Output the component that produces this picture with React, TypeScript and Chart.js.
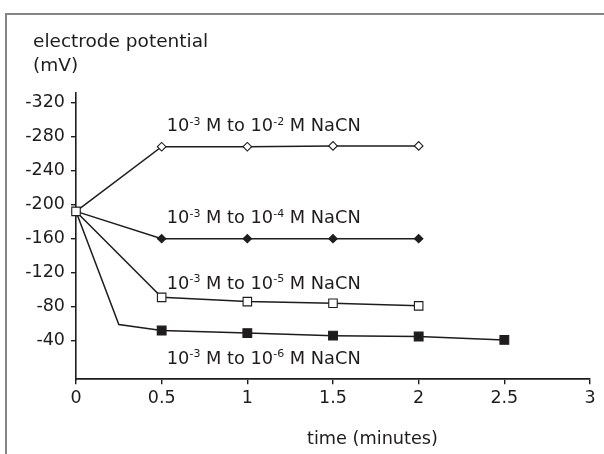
import React, { useEffect, useRef } from 'react';
import { Chart, registerables } from 'chart.js';

Chart.register(...registerables);

// ---- data ----
const timesA = [0, 0.5, 1, 1.5, 2];
const timesB = [0, 0.25, 0.5, 1, 1.5, 2, 2.5];
const nacn1e2 = [-192, -268, -268, -269, -269];
const nacn1e4 = [-192, -160, -160, -160, -160];
const nacn1e5 = [-192, -91, -86, -84, -81];
const nacn1e6 = [-192, -59, -52, -49, -46, -45, -41];
const yTickValues = [-320, -280, -240, -200, -160, -120, -80, -40];
const xTickValues = [0, 0.5, 1, 1.5, 2, 2.5, 3];
const seriesExponents = ['-2', '-4', '-5', '-6'];
const yTitleLines = ['electrode potential', '(mV)'];
const xTitle = 'time (minutes)';

// ---- annotation anchors (data units) ----
const labelTime = 0.53;
const labelBaselineValues = [-286, -178, -101, -13];

const TEXT = '#1e1c1d';
const FONT = 'DejaVu Sans';

const pts = (xs: number[], ys: number[]) => xs.map((x, i) => ({ x, y: ys[i] }));

const annotate = {
  id: 'annotate',
  afterDraw(chart: any) {
    const ctx = chart.ctx as CanvasRenderingContext2D;
    const xs = chart.scales.x;
    const ys = chart.scales.y;
    ctx.save();
    ctx.fillStyle = TEXT;
    ctx.textBaseline = 'alphabetic';
    ctx.textAlign = 'left';
    // y title
    ctx.font = `18.5px "${FONT}"`;
    ctx.fillText(yTitleLines[0], 33, 47);
    ctx.fillText(yTitleLines[1], 33, 71);
    // x title
    ctx.font = `17.7px "${FONT}"`;
    ctx.fillText(xTitle, 307, 444);
    // series labels
    seriesExponents.forEach((exp, i) => {
      let x = xs.getPixelForValue(labelTime);
      const y = ys.getPixelForValue(labelBaselineValues[i]);
      const segs: [string, boolean][] = [
        ['10', false],
        ['-3', true],
        [' M to 10', false],
        [exp, true],
        [' M NaCN', false],
      ];
      segs.forEach(([t, sup]) => {
        if (sup) {
          ctx.font = `11px "${FONT}"`;
          ctx.fillText(t, x, y - 6.5);
        } else {
          ctx.font = `17.8px "${FONT}"`;
          ctx.fillText(t, x, y);
        }
        x += ctx.measureText(t).width;
      });
    });
    ctx.restore();
  },
};

export default function App() {
  const ref = useRef<HTMLCanvasElement | null>(null);
  useEffect(() => {
    if (!ref.current) return;
    const line = {
      borderColor: TEXT,
      borderWidth: 1.5,
      pointBorderColor: TEXT,
      pointBorderWidth: 1.1,
      tension: 0,
      clip: false as any,
      showLine: true,
    };
    const chart = new Chart(ref.current, {
      type: 'scatter',
      data: {
        datasets: [
          {
            ...line,
            label: '10-3 M to 10-5 M NaCN',
            data: pts(timesA, nacn1e5),
            pointStyle: 'rect',
            pointRadius: 6,
            pointBackgroundColor: '#ffffff',
          },
          {
            ...line,
            label: '10-3 M to 10-2 M NaCN',
            data: pts(timesA, nacn1e2),
            pointStyle: 'rectRot',
            pointRadius: 4.3,
            pointBackgroundColor: '#ffffff',
          },
          {
            ...line,
            label: '10-3 M to 10-4 M NaCN',
            data: pts(timesA, nacn1e4),
            pointStyle: 'rectRot',
            pointRadius: timesA.map((t) => (t === 0 ? 0 : 4.2)),
            pointBackgroundColor: TEXT,
          },
          {
            ...line,
            label: '10-3 M to 10-6 M NaCN',
            data: pts(timesB, nacn1e6),
            pointStyle: 'rect',
            pointRadius: timesB.map((t) => (t === 0 || t === 0.25 ? 0 : 6.2)),
            pointBackgroundColor: TEXT,
          },
        ],
      },
      options: {
        animation: false,
        responsive: false,
        events: [],
        layout: { padding: { top: 92.7, right: 14, bottom: 0, left: 0 } },
        plugins: { legend: { display: false }, tooltip: { enabled: false }, title: { display: false } },
        scales: {
          x: {
            type: 'linear',
            position: 'bottom',
            min: 0,
            max: 3,
            afterFit: (s: any) => {
              s.height = 74.7;
            },
            afterBuildTicks: (s: any) => {
              s.ticks = xTickValues.map((v) => ({ value: v }));
            },
            ticks: {
              color: TEXT,
              font: { family: FONT, size: 17.5 },
              padding: 4,
              maxRotation: 0,
              autoSkip: false,
              callback: (v: any) => String(v),
            },
            grid: { display: true, drawOnChartArea: false, drawTicks: true, tickLength: 5, color: TEXT, lineWidth: 1.4 },
            border: { display: true, color: TEXT, width: 1.7 },
          },
          y: {
            type: 'linear',
            reverse: true,
            min: -331.5,
            max: 5.3,
            afterFit: (s: any) => {
              s.width = 76;
            },
            afterBuildTicks: (s: any) => {
              s.ticks = yTickValues.map((v) => ({ value: v }));
            },
            ticks: {
              color: TEXT,
              font: { family: FONT, size: 17.5 },
              padding: 6,
              autoSkip: false,
              callback: (v: any) => String(v),
            },
            grid: { display: true, drawOnChartArea: false, drawTicks: true, tickLength: 5, color: TEXT, lineWidth: 1.4 },
            border: { display: true, color: TEXT, width: 1.6 },
          },
        },
      },
      plugins: [annotate],
    } as any);
    return () => chart.destroy();
  }, []);

  return (
    <div style={{ position: 'fixed', left: 0, top: 0, width: 604, height: 454, overflow: 'hidden', background: '#fff' }}>
      <div
        style={{
          position: 'absolute',
          left: 5,
          top: 13,
          width: 700,
          height: 600,
          borderLeft: '2px solid #858585',
          borderTop: '2px solid #858585',
        }}
      />
      <canvas ref={ref} width={604} height={454} style={{ position: 'absolute', left: 0, top: 0 }} />
    </div>
  );
}
